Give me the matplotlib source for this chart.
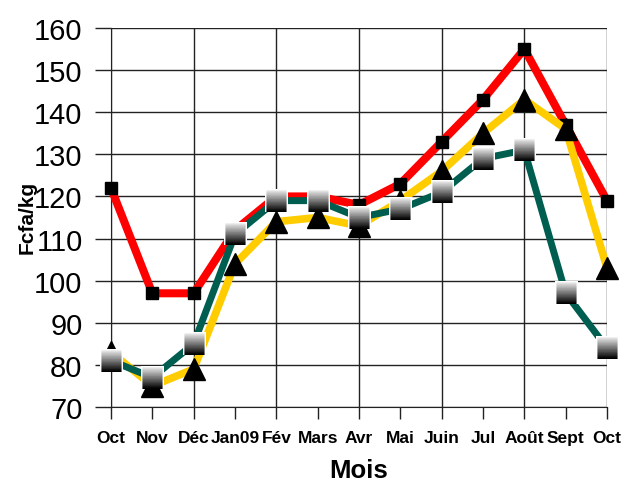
import matplotlib
matplotlib.use("Agg")
import matplotlib.pyplot as plt
from matplotlib.offsetbox import OffsetImage, AnnotationBbox
import numpy as np

# data
mois = ["Oct", "Nov", "Déc", "Jan09", "Fév", "Mars", "Avr", "Mai",
        "Juin", "Jul", "Août", "Sept", "Oct"]
prix_rouge = [122, 97, 97, 112, 120, 120, 118, 123, 133, 143, 155, 137, 119]
prix_jaune = [83, 75, 79, 104, 114, 115, 113, 119, 126, 135, 143, 136, 103]
prix_vert = [81, 77, 85, 111, 119, 119, 115, 117, 121, 129, 131, 97, 84]
y_ticks = list(range(70, 161, 10))

plt.rcParams['font.family'] = ['Liberation Sans Narrow', 'Liberation Sans', 'DejaVu Sans']


def gradient_square(n=16):
    # light grey on top to black at the bottom, with a white border
    g = np.linspace(0.95, 0.0, n)
    img = np.repeat(g[:, None], n, axis=1)
    img = np.dstack([img, img, img])
    img[0, :, :] = 1.0
    img[:, 0, :] = 1.0
    img[:, -1, :] = 1.0
    return img


def main():
    fig = plt.figure(figsize=(6.24, 4.85), dpi=100)
    ax = fig.add_axes([0.1779, 0.1588, 0.7949, 0.7814])

    x = np.arange(len(mois))

    # grid: every 10 horizontally, every other month vertically
    for v in y_ticks:
        ax.axhline(v, color="#222222", lw=1.0, zorder=1)
    ax.vlines(x[::2], y_ticks[0], y_ticks[-1], color="#222222", lw=1.0, zorder=1)

    ax.plot(x, prix_rouge, color="#FF0000", lw=5.8, marker="s", ms=9,
            mfc="black", mec="black", zorder=3, clip_on=False)
    ax.plot(x, prix_jaune, color="#FFCC00", lw=5.5, marker="^", ms=16,
            mfc="black", mec="black", zorder=4, clip_on=False)
    ax.plot(x, prix_vert, color="#005E50", lw=5.0, zorder=5, clip_on=False)

    img = gradient_square()
    for xi, yi in zip(x, prix_vert):
        ab = AnnotationBbox(OffsetImage(img, zoom=1.0), (xi, yi), frameon=False,
                            pad=0, zorder=6)
        ax.add_artist(ab)

    ax.set_xlim(x[0], x[-1])
    ax.set_ylim(y_ticks[0], y_ticks[-1])
    ax.set_xticks(x)
    ax.set_xticklabels(mois, fontsize=12.5, fontweight="bold")
    ax.set_yticks(y_ticks)
    ax.set_yticklabels([str(v) for v in y_ticks], fontsize=21)

    ax.tick_params(axis="y", direction="out", length=11.5, width=1.0,
                   color="#222222", pad=9)
    ax.tick_params(axis="x", direction="out", length=8.5, width=1.0,
                   color="#222222", pad=8)

    for side in ["top", "right"]:
        ax.spines[side].set_visible(False)
    ax.spines["left"].set_color("#222222")
    ax.spines["bottom"].set_color("#222222")

    ax.set_ylabel("Fcfa/kg", fontsize=15, fontweight="bold",
                  family=["Liberation Sans", "DejaVu Sans"])
    ax.yaxis.set_label_coords(-0.15, 0.504)
    ax.set_xlabel("Mois", fontsize=18.5, fontweight="bold")
    ax.xaxis.set_label_coords(0.5, -0.135)

    fig.savefig("out.png", dpi=100)


if __name__ == "__main__":
    main()
